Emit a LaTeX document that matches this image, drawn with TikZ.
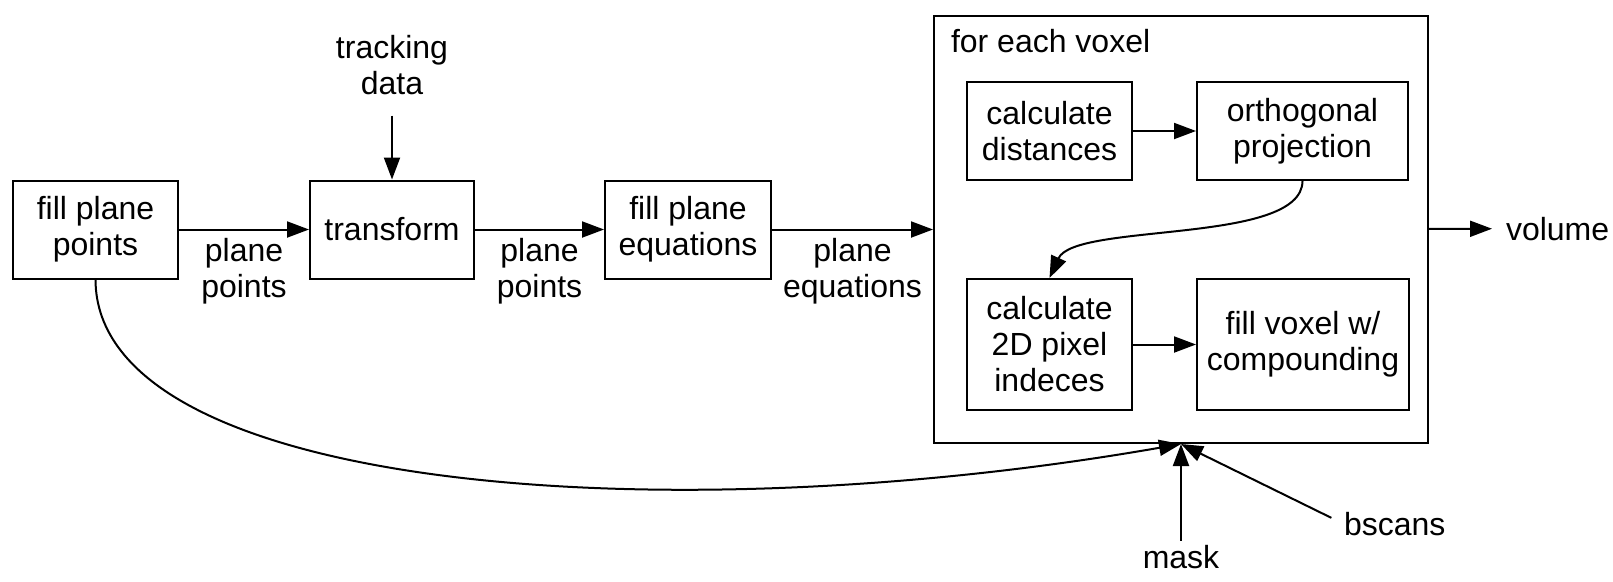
\documentclass[tikz,border=0pt]{standalone}
\usepackage{fontspec}
\setmainfont{Liberation Sans}
\usepackage{tikz}
\usetikzlibrary{arrows.meta,positioning}

\begin{document}
\begin{tikzpicture}[x=1pt,y=-1pt,line width=2pt,
  every node/.style={font=\fontsize{32}{36}\selectfont,align=center},
  box/.style={draw,inner sep=0pt,minimum height=98pt},
  lbl/.style={inner sep=0pt},
  arr/.style={-{Triangle[length=22pt,width=16pt]}}]
\useasboundingbox (0,0) rectangle (1613,581);
\node[box,minimum width=165pt] (fpp) at (95.5,229.5) {fill plane\\points};
\node[box,minimum width=164pt] (trans) at (392,229.5) {transform};
\node[box,minimum width=166pt] (fpe) at (688,229.5) {fill plane\\equations};
\node[draw,minimum width=494pt,minimum height=427pt] (voxel) at (1181,229.5) {};
\node[lbl,anchor=base west] (each) at (950,52) {for each voxel};
\node[box,minimum width=165pt] (cd) at (1049.5,131) {calculate\\distances};
\node[box,minimum width=211pt] (op) at (1302.5,131) {orthogonal\\projection};
\node[box,minimum width=165pt,minimum height=131pt] (cpi) at (1049.5,344.5) {calculate\\2D pixel\\indeces};
\node[box,minimum width=212pt,minimum height=131pt] (fvc) at (1303,344.5) {fill voxel w/\\compounding};
\node[lbl,anchor=north] (track) at (392,34) {tracking\\data};
\node[lbl,anchor=base west] (vol) at (1505,240) {volume};
\node[lbl,anchor=base] (mask) at (1181,568) {mask};
\node[lbl,anchor=base west] (bscans) at (1343,535) {bscans};
\draw[arr] (fpp) -- node[lbl,below=8pt]{plane\\points} (trans);
\draw[arr] (trans) -- node[lbl,below=8pt]{plane\\points} (fpe);
\draw[arr] (fpe) -- node[lbl,below=8pt]{plane\\equations} (voxel);
\draw[arr,shorten <=20pt] (track) -- (trans);
\draw[arr,shorten >=13pt] (voxel) -- (vol);
\draw[arr] (cd) -- (op);
\draw[arr] (cpi) -- (fvc);
\draw[arr] (op.south) .. controls (1302,245) and (1075,222) .. (cpi.north);
\draw[arr] (fpp.south) .. controls (96,490) and (660,535) .. (voxel.south);
\draw[arr,shorten <=3pt] (mask) -- (voxel.south);
\draw[arr,shorten <=13pt] (bscans.west) -- (voxel.south);
\end{tikzpicture}
\end{document}
